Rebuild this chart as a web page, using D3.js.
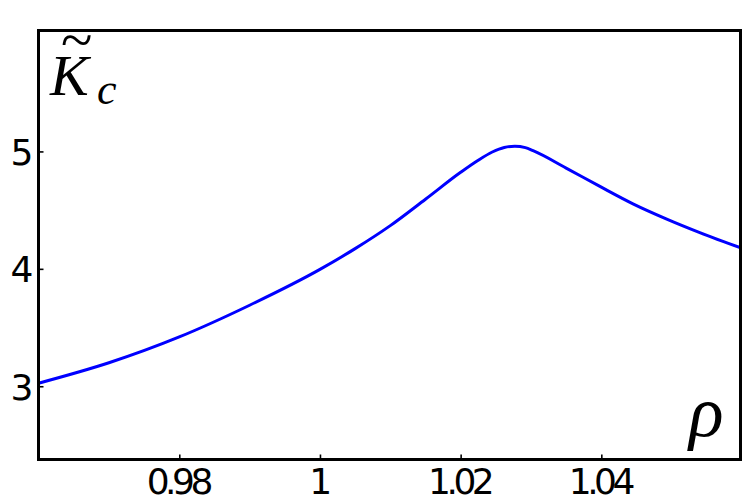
<!DOCTYPE html>
<html>
<head>
<meta charset="utf-8">
<script src="https://cdn.jsdelivr.net/npm/d3@7"></script>
<style>
  html, body { margin: 0; padding: 0; background: #fff; }
  svg { display: block; }
</style>
</head>
<body>
<svg id="chart" width="747" height="500"></svg>
<script>
// ---- data ----
const rho = [0.96, 0.97, 0.98, 0.99, 1.0, 1.005, 1.01, 1.015, 1.02, 1.0225, 1.0245, 1.0262, 1.0277, 1.0292, 1.0303, 1.035, 1.0398, 1.0445, 1.0493, 1.054, 1.06];
const Kc  = [3.026, 3.20, 3.42, 3.69, 3.995, 4.172, 4.368, 4.593, 4.822, 4.925, 4.995, 5.034, 5.044, 5.032, 5.006, 4.858, 4.702, 4.554, 4.424, 4.309, 4.175];
const xTicks = [0.98, 1.0, 1.02, 1.04];
const xTickLabels = ["0.98", "1", "1.02", "1.04"];
const yTicks = [3, 4, 5];
const yTickLabels = ["3", "4", "5"];

const svg = d3.select("#chart");
const L = 38.5, R = 740.5, T = 30.5, B = 459.5;

const x = d3.scaleLinear().domain([0.96, 1.06]).range([38.6, 742]);
const y = d3.scaleLinear().domain([2.376, 6.03]).range([B, T]);

svg.append("defs").append("clipPath").attr("id", "clip")
  .append("rect").attr("x", L).attr("y", T).attr("width", R - L).attr("height", B - T);

const pts = rho.map((r, i) => [r, Kc[i]]);
const line = d3.line().x(d => x(d[0])).y(d => y(d[1])).curve(d3.curveMonotoneX);

svg.append("path").datum(pts)
  .attr("clip-path", "url(#clip)")
  .attr("d", line)
  .attr("fill", "none")
  .attr("stroke", "#0000ff")
  .attr("stroke-width", 3);

// ticks (inward)
const fontStyle = "font-family:'DejaVu Sans',sans-serif;font-size:36px;letter-spacing:-4.5px;";
const xAxis = d3.axisBottom(x).tickValues(xTicks).tickSize(-5)
  .tickFormat((d, i) => xTickLabels[i]);
const gx = svg.append("g").attr("transform", `translate(0,${B})`).call(xAxis);
gx.select(".domain").remove();
gx.selectAll(".tick line").attr("stroke", "#000").attr("stroke-width", 1.6);
gx.selectAll(".tick text").attr("style", fontStyle).attr("fill", "#000")
  .attr("y", 34).attr("dy", 0).attr("dx", "-2px");

const yAxis = d3.axisLeft(y).tickValues(yTicks).tickSize(-5)
  .tickFormat((d, i) => yTickLabels[i]);
const gy = svg.append("g").attr("transform", `translate(${L},0)`).call(yAxis);
gy.select(".domain").remove();
gy.selectAll(".tick line").attr("stroke", "#000").attr("stroke-width", 1.6);
gy.selectAll(".tick text").attr("style", fontStyle).attr("fill", "#000")
  .attr("x", -9.5).attr("dy", "0.36em");

// frame
svg.append("rect").attr("x", L).attr("y", T).attr("width", R - L).attr("height", B - T)
  .attr("fill", "none").attr("stroke", "#000").attr("stroke-width", 3);

// labels
const lab = svg.append("g").attr("font-family", "'Liberation Serif',serif").attr("fill", "#000");
const kt = lab.append("text");
kt.append("tspan").attr("x", 50).attr("y", 95).attr("font-size", 58).attr("font-style", "italic").text("K");
kt.append("tspan").attr("x", 61).attr("y", 59).attr("font-size", 58).text("~");
kt.append("tspan").attr("x", 97).attr("y", 104).attr("font-size", 44).attr("font-style", "italic").text("c");
lab.append("text").attr("x", 689).attr("y", 436).attr("font-size", 72).attr("font-style", "italic").text("ρ");
</script>
</body>
</html>
